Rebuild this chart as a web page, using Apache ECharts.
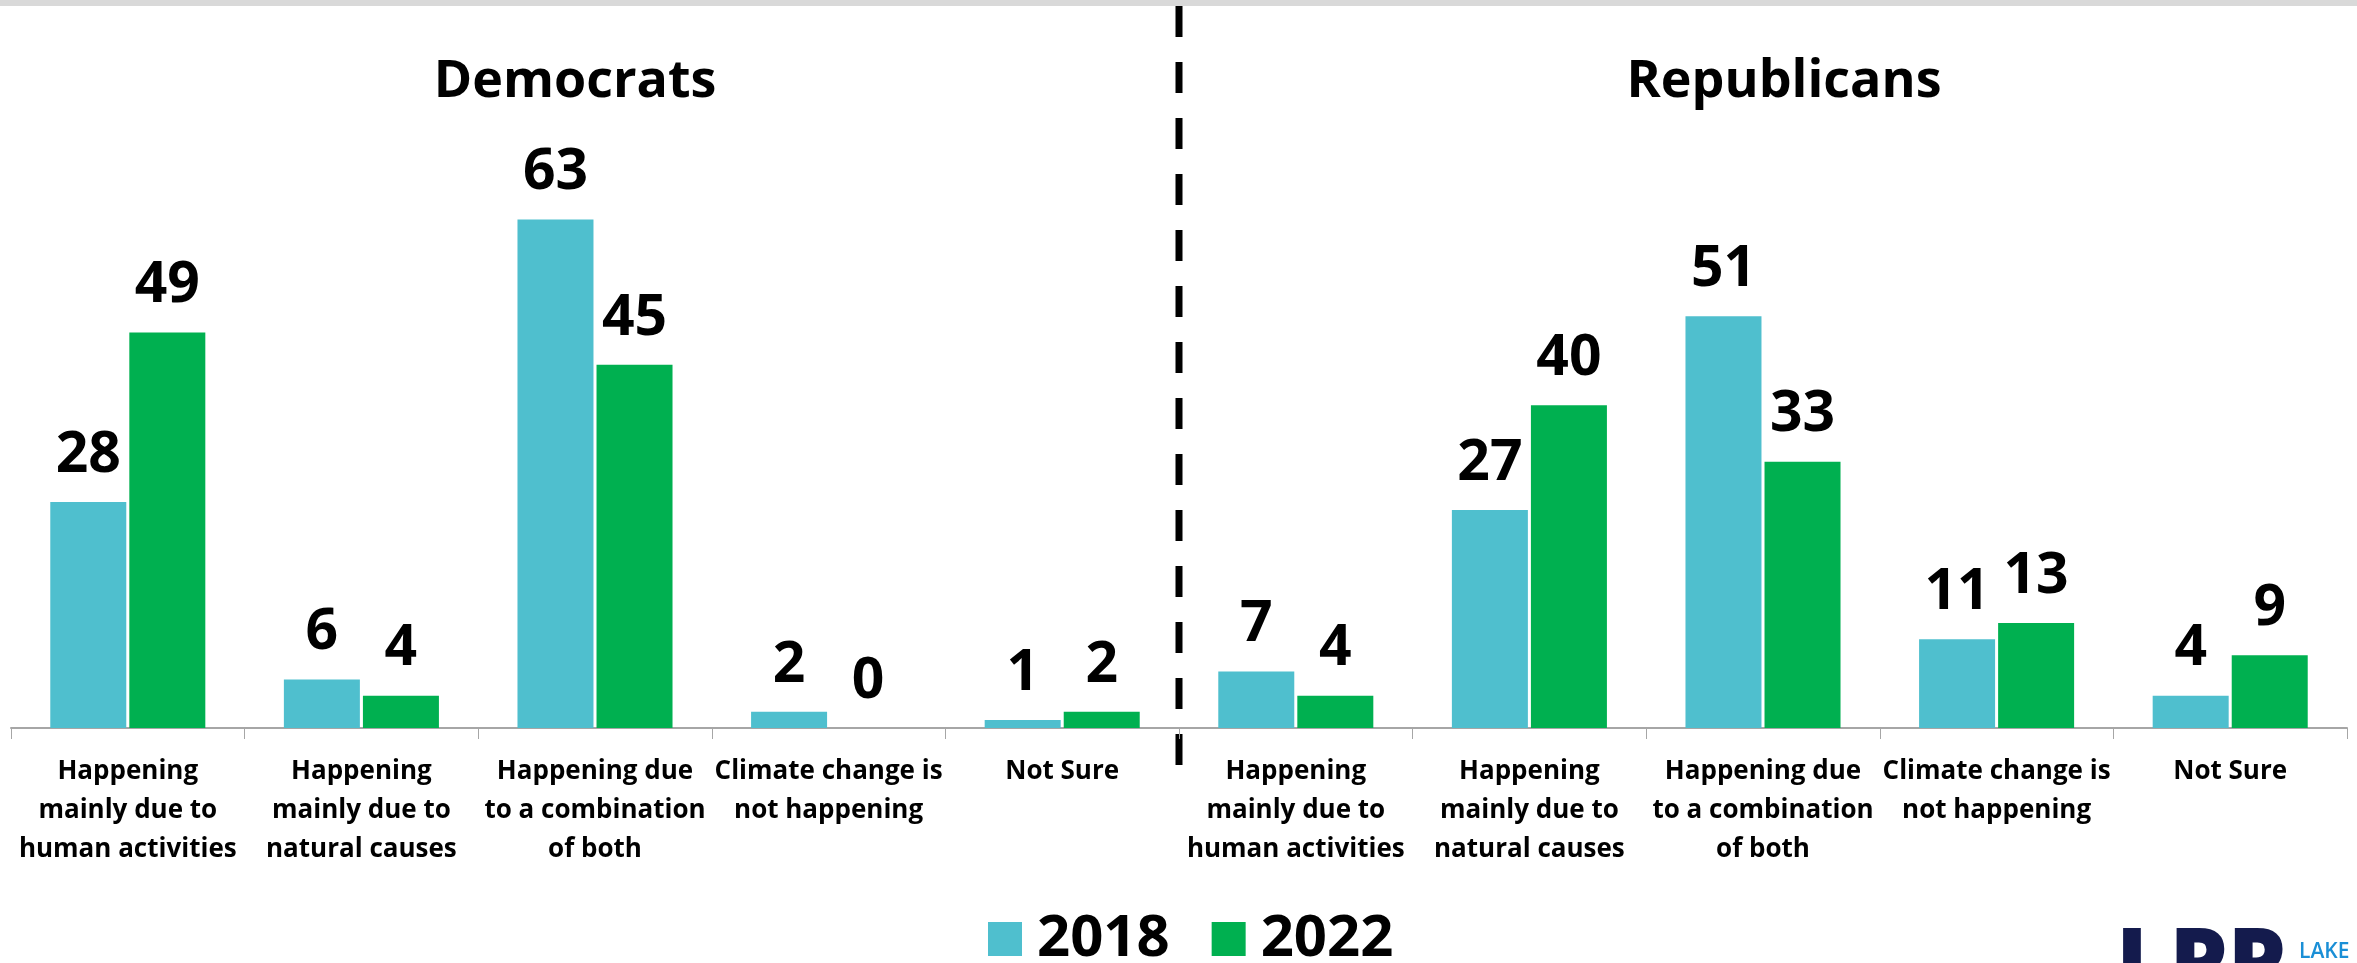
<!DOCTYPE html>
<html>
<head>
<meta charset="utf-8">
<script src="https://cdn.jsdelivr.net/npm/echarts@6/dist/echarts.min.js"></script>
<style>
html,body{margin:0;padding:0;background:#fff;}
#chart{width:2357px;height:963px;}
</style>
</head>
<body>
<div id="chart"></div>
<script>
const categories = [
  'Happening\nmainly due to\nhuman activities',
  'Happening\nmainly due to\nnatural causes',
  'Happening due\nto a combination\nof both',
  'Climate change is\nnot happening',
  'Not Sure'
];
const seriesNames = ['2018', '2022'];
const panelTitles = ['Democrats', 'Republicans'];
const dem2018 = [28, 6, 63, 2, 1];
const dem2022 = [49, 4, 45, 0, 2];
const rep2018 = [7, 27, 51, 11, 4];
const rep2022 = [4, 40, 33, 13, 9];

const FONT = '"Open Sans", "Noto Sans", sans-serif';
const C2018 = '#4FBFCE';
const C2022 = '#00B050';

const chart = echarts.init(document.getElementById('chart'), null, {renderer: 'canvas'});

const grids = [
  {left: 11, width: 1168, top: 163, bottom: 235},
  {left: 1179, width: 1168, top: 163, bottom: 235}
];

function xAxis(i) {
  return {
    type: 'category', gridIndex: i, data: categories,
    axisLine: {lineStyle: {color: '#A6A6A6', width: 2}},
    axisTick: {show: true, length: 11, interval: 0, lineStyle: {color: '#A6A6A6', width: 1}},
    axisLabel: {interval: 0, margin: 24, fontFamily: FONT, fontWeight: 'bold', fontSize: 26, lineHeight: 39, color: '#000'}
  };
}
function yAxis(i) {
  return {type: 'value', gridIndex: i, min: 0, max: 70, show: false, splitLine: {show: false}};
}
function bar(name, data, i, color) {
  return {
    name: name, type: 'bar', xAxisIndex: i, yAxisIndex: i, data: data,
    barWidth: 76, barGap: '4%',
    itemStyle: {color: color},
    label: {show: true, position: 'top', distance: 18, fontFamily: FONT, fontWeight: 'bold', fontSize: 57, lineHeight: 57, color: '#000'}
  };
}

chart.setOption({
  animation: false,
  backgroundColor: '#fff',
  grid: grids,
  xAxis: [xAxis(0), xAxis(1)],
  yAxis: [yAxis(0), yAxis(1)],
  legend: {
    data: seriesNames,
    left: 988, top: 910, padding: 0,
    icon: 'rect', itemWidth: 34, itemHeight: 34, itemGap: 42,
    textStyle: {fontFamily: FONT, fontWeight: 'bold', fontSize: 58, color: '#000', padding: [0, 0, 0, 10]},
    selectedMode: false
  },
  series: [
    bar(seriesNames[0], dem2018, 0, C2018),
    bar(seriesNames[1], dem2022, 0, C2022),
    bar(seriesNames[0], rep2018, 1, C2018),
    bar(seriesNames[1], rep2022, 1, C2022)
  ],
  graphic: [
    {type: 'rect', shape: {x: 0, y: 0, width: 2357, height: 6}, style: {fill: '#D9D9D9'}, silent: true},
    {type: 'line', shape: {x1: 1179, y1: 6, x2: 1179, y2: 765}, style: {stroke: '#000', lineWidth: 7, lineDash: [31, 25]}, silent: true},
    {type: 'text', x: 575, y: 56, style: {text: panelTitles[0], font: 'bold 52px ' + FONT, textAlign: 'center', textVerticalAlign: 'top', fill: '#000'}},
    {type: 'text', x: 1784, y: 56, style: {text: panelTitles[1], font: 'bold 52px ' + FONT, textAlign: 'center', textVerticalAlign: 'top', fill: '#000'}},
    {type: 'text', x: 2116, y: 922, style: {text: 'LPP', font: '900 92px ' + FONT, textAlign: 'left', textVerticalAlign: 'top', fill: '#141B4D'}},
    {type: 'text', x: 2299, y: 942, style: {text: 'LAKE', font: '600 21px ' + FONT, textAlign: 'left', textVerticalAlign: 'top', fill: '#1A8FD6'}}
  ]
});
</script>
</body>
</html>
